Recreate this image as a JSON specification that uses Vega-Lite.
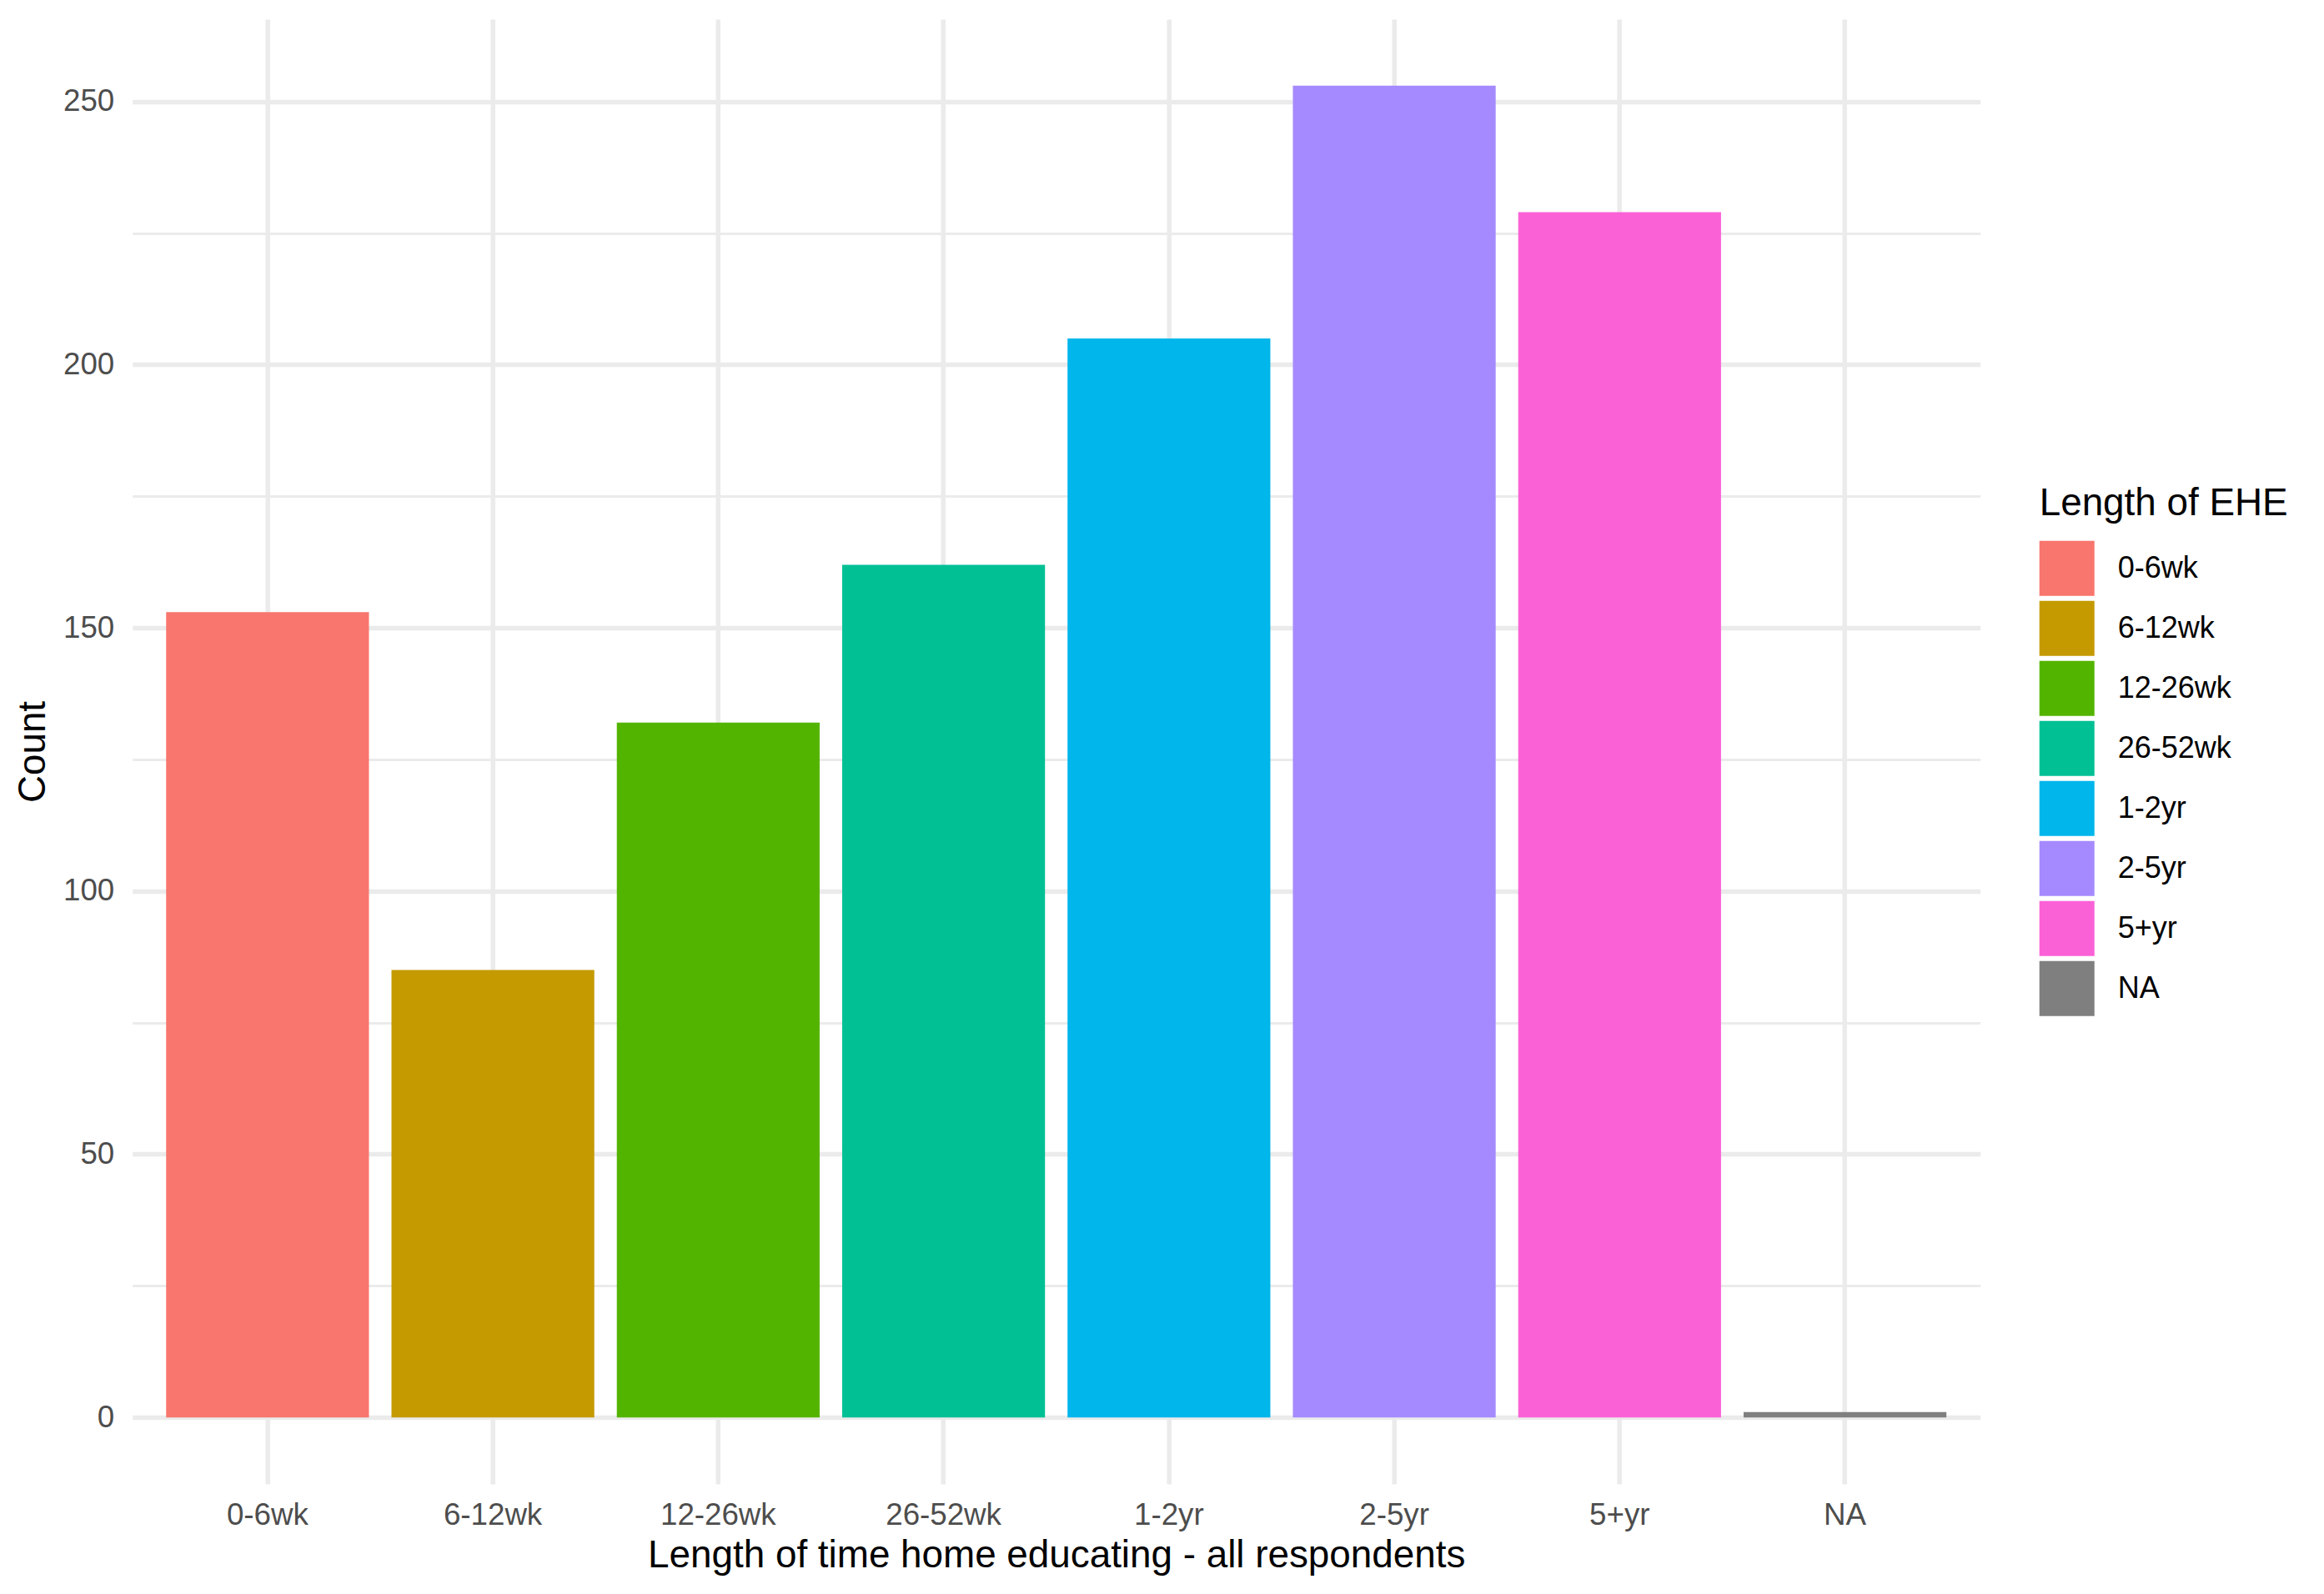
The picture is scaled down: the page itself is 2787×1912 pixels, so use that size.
{
  "$schema": "https://vega.github.io/schema/vega-lite/v6.json",
  "autosize": {"type": "none"},
  "padding": {"left": 158.7, "top": 23, "right": 412.3, "bottom": 132},
  "width": 2216,
  "height": 1757,
  "background": "white",
  "config": {"font": "Liberation Sans", "view": {"stroke": null}},
  "data": {
    "values": [
      {"length": "0-6wk", "count": 153},
      {"length": "6-12wk", "count": 85},
      {"length": "12-26wk", "count": 132},
      {"length": "26-52wk", "count": 162},
      {"length": "1-2yr", "count": 205},
      {"length": "2-5yr", "count": 253},
      {"length": "5+yr", "count": 229},
      {"length": "NA", "count": 1}
    ]
  },
  "mark": {"type": "bar"},
  "encoding": {
    "x": {
      "field": "length",
      "type": "nominal",
      "sort": ["0-6wk", "6-12wk", "12-26wk", "26-52wk", "1-2yr", "2-5yr", "5+yr", "NA"],
      "scale": {"paddingInner": 0.1, "paddingOuter": 0.15},
      "axis": {
        "title": "Length of time home educating - all respondents",
        "labelAngle": 0,
        "bandPosition": 0.5,
        "grid": true,
        "gridColor": "#EBEBEB",
        "gridWidth": 5.5,
        "domain": false,
        "ticks": false,
        "tickSize": 0,
        "labelPadding": 19,
        "labelFontSize": 36.7,
        "labelColor": "#4D4D4D",
        "labelOverlap": false,
        "titleFontSize": 45.8,
        "titleFontWeight": "normal",
        "titleColor": "#000000",
        "titleBaseline": "alphabetic",
        "titleAlign": "center",
        "titleLimit": 3000,
        "titleX": 1108,
        "titleY": 99
      }
    },
    "y": {
      "field": "count",
      "type": "quantitative",
      "scale": {"domain": [-12.65, 265.65], "nice": false, "zero": false},
      "axis": {
        "title": "Count",
        "values": [0, 25, 50, 75, 100, 125, 150, 175, 200, 225, 250],
        "labelExpr": "datum.value % 50 === 0 ? datum.label : ''",
        "labelOverlap": false,
        "grid": true,
        "gridColor": "#EBEBEB",
        "gridWidth": {"condition": {"test": "datum.value % 50 !== 0", "value": 2.8}, "value": 5.5},
        "domain": false,
        "ticks": false,
        "tickSize": 0,
        "labelPadding": 22,
        "labelFontSize": 36.7,
        "labelColor": "#4D4D4D",
        "titleFontSize": 45.8,
        "titleFontWeight": "normal",
        "titleColor": "#000000",
        "titleAngle": -90,
        "titleBaseline": "alphabetic",
        "titleAlign": "center",
        "titleX": -105.4,
        "titleY": 878.5
      }
    },
    "color": {
      "field": "length",
      "type": "nominal",
      "sort": ["0-6wk", "6-12wk", "12-26wk", "26-52wk", "1-2yr", "2-5yr", "5+yr", "NA"],
      "scale": {
        "domain": ["0-6wk", "6-12wk", "12-26wk", "26-52wk", "1-2yr", "2-5yr", "5+yr", "NA"],
        "range": ["#F8766D", "#C49A00", "#53B400", "#00C094", "#00B6EB", "#A58AFF", "#FB61D7", "#7F7F7F"]
      },
      "legend": {
        "title": "Length of EHE",
        "orient": "none",
        "legendX": 2287,
        "legendY": 559,
        "symbolType": "square",
        "symbolSize": 4356,
        "symbolStrokeWidth": 0,
        "symbolOpacity": 1,
        "labelFontSize": 36,
        "labelColor": "#000000",
        "labelOffset": 28,
        "labelLimit": 400,
        "titleFontSize": 45.8,
        "titleFontWeight": "normal",
        "titleColor": "#000000",
        "titleLimit": 600,
        "titlePadding": 21,
        "rowPadding": 6,
        "padding": 0
      }
    }
  }
}
